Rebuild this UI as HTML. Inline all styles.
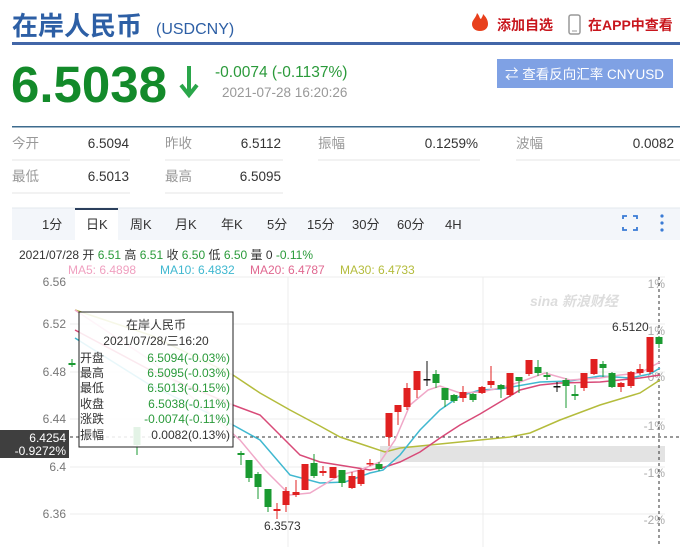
<!DOCTYPE html>
<html><head><meta charset="utf-8"><style>
body{margin:0;width:680px;height:547px;overflow:hidden;background:#fff;font-family:"Liberation Sans","Noto Sans CJK SC",sans-serif;}
</style></head><body>
<svg width="680" height="547" xmlns="http://www.w3.org/2000/svg" font-family="Liberation Sans, Noto Sans CJK SC, sans-serif">
<!-- header -->
<text x="12" y="35" font-size="26" font-weight="bold" fill="#2d5fa5">在岸人民币</text>
<text x="156" y="34" font-size="16" fill="#2d5fa5">(USDCNY)</text>
<path d="M480 31c-5 0-8-3-8-7 0-4 4-6 5-11 3 3 2 5 4 6 1-2 2-3 2-5 3 3 5 6 5 10 0 4-3 7-8 7z" fill="#e8401c"/>
<text x="497" y="30" font-size="14" font-weight="bold" fill="#c8161d">添加自选</text>
<rect x="569" y="15" width="11" height="19" rx="2" fill="none" stroke="#999" stroke-width="1.5"/>
<line x1="572" y1="31" x2="577" y2="31" stroke="#999"/>
<text x="588" y="30" font-size="14" font-weight="bold" fill="#c8161d">在APP中查看</text>
<rect x="12" y="42" width="668" height="3" fill="#4266a8"/>
<text x="11" y="102" font-size="51" font-weight="bold" fill="#138a2a">6.5038</text>
<path d="M189 66v26M181 85l8 10 8-10" stroke="#2aa64a" stroke-width="4" fill="none"/>
<text x="215" y="77" font-size="15.5" fill="#2a9a3a">-0.0074 (-0.1137%)</text>
<text x="222" y="97" font-size="13.5" fill="#999">2021-07-28 16:20:26</text>
<rect x="497" y="59" width="176" height="29" fill="#7fa1e4"/>
<text x="505" y="79" font-size="13.5" fill="#fff">⇄ 查看反向汇率 CNYUSD</text>
<rect x="12" y="126" width="668" height="1.5" fill="#3d6b8e"/>
<g font-size="13.5" fill="#999">
<text x="12" y="148">今开</text><text x="165" y="148">昨收</text><text x="318" y="148">振幅</text><text x="516" y="148">波幅</text>
<text x="12" y="181">最低</text><text x="165" y="181">最高</text></g>
<g font-size="13.5" fill="#333" text-anchor="end">
<text x="129" y="148">6.5094</text><text x="281" y="148">6.5112</text><text x="478" y="148">0.1259%</text><text x="674" y="148">0.0082</text>
<text x="129" y="181">6.5013</text><text x="281" y="181">6.5095</text></g>
<g stroke="#e6e6e6"><line x1="12" y1="160" x2="130" y2="160"/><line x1="165" y1="160" x2="283" y2="160"/><line x1="318" y1="160" x2="480" y2="160"/><line x1="516" y1="160" x2="680" y2="160"/>
<line x1="12" y1="193" x2="130" y2="193"/><line x1="165" y1="193" x2="283" y2="193"/></g>
<!-- tab bar -->
<rect x="12" y="208" width="668" height="32" fill="#f3f6fa"/>
<line x1="12" y1="208" x2="680" y2="208" stroke="#e3e8ee"/>
<rect x="75" y="209" width="43" height="31" fill="#fff"/>
<rect x="75" y="208" width="43" height="2" fill="#2b3f5c"/>
<g font-size="13" fill="#333"><text x="42" y="229">1分</text><text x="86" y="229">日K</text><text x="130" y="229">周K</text><text x="175" y="229">月K</text><text x="221" y="229">年K</text><text x="267" y="229">5分</text><text x="307" y="229">15分</text><text x="352" y="229">30分</text><text x="397" y="229">60分</text><text x="445" y="229">4H</text></g>
<path d="M623 219v-3h4M633 216h4v3M623 227v3h4M633 230h4v-3" stroke="#3a7bd5" stroke-width="1.8" fill="none"/>
<g fill="#3a7bd5"><circle cx="662" cy="216" r="1.6"/><circle cx="662" cy="223" r="1.6"/><circle cx="662" cy="230" r="1.6"/></g>
<text x="19" y="259" font-size="12" fill="#333">2021/07/28 开 <tspan fill="#2a9a3a">6.51</tspan> 高 <tspan fill="#2a9a3a">6.51</tspan> 收 <tspan fill="#2a9a3a">6.50</tspan> 低 <tspan fill="#2a9a3a">6.50</tspan> 量 0 <tspan fill="#2a9a3a">-0.11%</tspan></text>
<g font-size="12"><text x="68" y="274" fill="#f0a0c0">MA5: 6.4898</text><text x="160" y="274" fill="#40b8d0">MA10: 6.4832</text><text x="250" y="274" fill="#e06890">MA20: 6.4787</text><text x="340" y="274" fill="#b4bc3c">MA30: 6.4733</text></g>
<!-- grid -->
<g stroke="#ececec"><line x1="70" y1="277" x2="665" y2="277"/><line x1="70" y1="324" x2="665" y2="324"/><line x1="70" y1="372" x2="665" y2="372"/><line x1="70" y1="419" x2="665" y2="419"/><line x1="70" y1="467" x2="665" y2="467"/><line x1="70" y1="514" x2="665" y2="514"/>
<line x1="288" y1="277" x2="288" y2="547"/><line x1="483" y1="277" x2="483" y2="547"/></g>
<g font-size="12" fill="#777" text-anchor="end"><text x="66" y="286">6.56</text><text x="66" y="328">6.52</text><text x="66" y="376">6.48</text><text x="66" y="423">6.44</text><text x="66" y="471">6.4</text><text x="66" y="518">6.36</text></g>
<g font-size="12" fill="#aaa" text-anchor="end"><text x="665" y="288">1%</text><text x="665" y="335">1%</text><text x="665" y="381">0%</text><text x="665" y="430">-1%</text><text x="665" y="477">-1%</text><text x="665" y="524">-2%</text></g>
<text x="530" y="306" font-size="14" font-style="italic" font-weight="bold" fill="#ddd">sina 新浪财经</text>
<rect x="380" y="446" width="285" height="16" fill="#e3e3e3"/>
<line x1="70" y1="437" x2="680" y2="437" stroke="#333" stroke-dasharray="3,3"/>
<line x1="659" y1="277" x2="659" y2="547" stroke="#333" stroke-dasharray="3,3"/>
<!-- MA lines -->
<g fill="none" stroke-width="1.5">
<polyline stroke="#b4bc3c" points="75,310 150,335 233,375 260,393 290,410 320,426 340,437 370,447 385,452 400,448 420,446 450,443 480,440 510,437 530,433 560,420 600,405 640,393 660,380"/>
<polyline stroke="#d84a78" points="75,330 150,370 233,405 260,415 280,435 300,455 320,462 345,466 370,470 385,467 400,462 420,452 440,438 460,425 480,414 500,402 520,390 540,385 560,383 600,382 640,378 660,375"/>
<polyline stroke="#40b8d0" points="75,338 150,385 233,425 260,440 290,475 320,483 345,482 370,473 383,470 400,455 420,430 440,410 460,396 480,390 500,389 540,382 570,381 600,376 630,378 650,374 660,368"/>
<polyline stroke="#f0a8c8" points="75,310 150,360 240,440 265,470 290,495 310,493 340,475 360,470 380,462 395,440 410,405 428,390 440,386 460,393 480,392 500,388 520,382 545,373 570,380 600,378 620,375 640,373 660,362"/>
</g>
<g id="c"></g>
<!-- tooltip -->
<rect x="79" y="312" width="154" height="135" fill="#fff" fill-opacity="0.88" stroke="#222"/>
<g font-size="12"><text x="156" y="329" text-anchor="middle" fill="#333">在岸人民币</text><text x="156" y="345" text-anchor="middle" fill="#333">2021/07/28/三16:20</text>
<g fill="#333"><text x="80" y="362">开盘</text><text x="80" y="377">最高</text><text x="80" y="392">最低</text><text x="80" y="408">收盘</text><text x="80" y="423">涨跌</text><text x="80" y="439">振幅</text></g>
<g text-anchor="end" fill="#2a9a3a"><text x="230" y="362">6.5094(-0.03%)</text><text x="230" y="377">6.5095(-0.03%)</text><text x="230" y="392">6.5013(-0.15%)</text><text x="230" y="408">6.5038(-0.11%)</text><text x="230" y="423">-0.0074(-0.11%)</text><text x="230" y="439" fill="#333">0.0082(0.13%)</text></g></g>
<rect x="0" y="430" width="69" height="28" fill="#3f3f3f"/>
<text x="66" y="442" font-size="12" fill="#fff" text-anchor="end">6.4254</text><text x="66" y="455" font-size="12" fill="#fff" text-anchor="end">-0.9272%</text>
<text x="264" y="530" font-size="12" fill="#333">6.3573</text>
<text x="612" y="331" font-size="12" fill="#333">6.5120</text>
</svg>
<script>
var d=[[72,'g',363,365,359,367],[137,'g',427,445,427,455],[241,'g',453,455,451,465],[249,'g',460,478,460,482],[258,'g',474,487,472,499],[268,'g',489,507,489,512],[277,'r',509,511,503,519],[286,'r',491,505,487,512],[296,'r',492,495,480,497],[305,'r',464,490,464,490],[314,'g',463,476,454,478],[323,'r',471,473,466,476],[333,'r',467,478,467,478],[342,'g',470,483,470,487],[352,'r',476,488,472,489],[361,'r',470,484,469,486],[370,'r',463,464,459,466],[379,'g',464,469,462,471],[389,'r',413,437,413,446],[398,'r',405,412,405,425],[407,'r',388,407,383,410],[417,'r',371,390,371,398],[427,'k',379,380,361,386],[436,'g',374,383,370,388],[445,'g',388,400,388,407],[454,'g',395,401,394,403],[463,'r',392,398,386,402],[473,'g',394,400,393,402],[482,'r',387,393,386,394],[491,'r',381,385,366,388],[501,'g',385,389,384,398],[510,'r',373,395,373,397],[519,'g',377,381,377,393],[529,'r',360,374,360,376],[538,'g',367,373,360,376],[547,'g',375,377,372,380],[557,'k',386,387,382,392],[566,'g',380,386,378,408],[575,'g',394,396,385,400],[584,'r',373,388,373,391],[594,'r',359,374,359,375],[603,'g',364,368,361,377],[612,'g',373,387,372,388],[621,'r',383,387,382,392],[631,'r',372,386,371,388],[640,'r',369,373,364,375],[650,'r',337,372,337,374],[659,'g',337,344,336,348]];
var s='',col={g:'#1a9a30',r:'#e02020',k:'#111'};
d.forEach(function(c){var x=c[0],f=col[c[1]];s+='<line x1="'+x+'" x2="'+x+'" y1="'+c[4]+'" y2="'+c[5]+'" stroke="'+f+'"/><rect x="'+(x-3.5)+'" y="'+c[2]+'" width="7" height="'+Math.max(1.5,c[3]-c[2])+'" fill="'+f+'"/>';});
document.getElementById('c').innerHTML=s;
</script>
</body></html>
